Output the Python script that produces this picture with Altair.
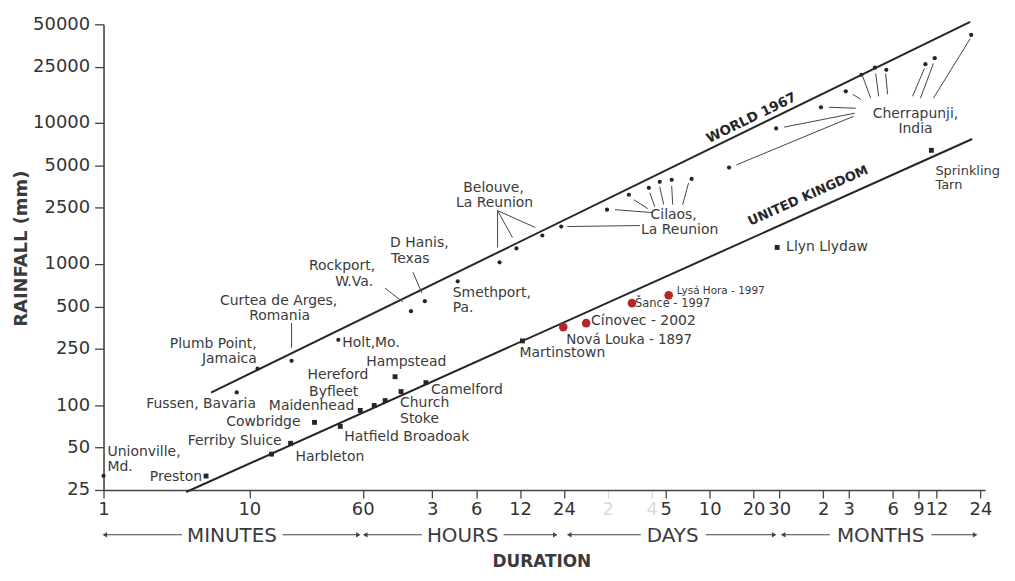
import altair as alt
import pandas as pd

FONT = "DejaVu Sans"
INK = "#262626"
TXT = "#3a3a3a"
RED = "#b3262c"

# ---------------- data (duration in minutes, rainfall in mm) ----------------
world_minutes = [1.0, 8.2, 11.4, 19.5, 40.8, 128.6, 160, 269,
                 521, 680, 1024,
                 1380, 2844, 4018, 5505, 6540, 7900, 10820,
                 19550, 41130, 83500, 123600, 158200, 195900, 234400, 434700, 503300, 895900]
world_mm = [31.5, 123, 181, 206, 290, 463, 545, 754,
            1028, 1289, 1592,
            1843, 2427, 3097, 3469, 3827, 3950, 4010,
            4823, 9143, 12910, 16740, 21960, 24700, 23800, 26090, 28760, 42040]

uk_sites = ["Preston", "Harbleton", "Ferriby Sluice", "Cowbridge", "Hatfield Broadoak",
            "Maidenhead", "Byfleet", "Hereford", "Church Stoke", "Hampstead", "Camelford",
            "Martinstown", "Llyn Llydaw", "Sprinkling Tarn"]
uk_minutes = [5.05, 14.2, 19.2, 28, 42.1, 57.7, 71.9, 85.5, 109.9, 100, 162.8, 748, 41790, 477600]
uk_mm = [31.4, 44.9, 53.6, 75.4, 70.6, 91.6, 99.3, 107.6, 124.7, 158.9, 144.2, 285, 1310, 6393]

cz_sites = ["Nová Louka", "Cínovec", "Šance", "Lysá Hora"]
cz_minutes = [1425, 2046, 4216, 7535]
cz_mm = [357, 381, 528, 601]

env_names = ["WORLD 1967", "WORLD 1967", "UNITED KINGDOM", "UNITED KINGDOM"]
env_minutes = [5.46, 881600, 3.69, 910000]
env_mm = [122.6, 52130, 24.2, 7689]

env_label_text = ["WORLD 1967", "UNITED KINGDOM"]
env_label_minutes = [27780, 68050]
env_label_mm = [10800, 3048]

lab_left_text = ["Unionville,", "Md.", "Harbleton", "Hatfield Broadoak", "Hereford", "Hampstead",
                 "Camelford", "Church", "Stoke", "Holt,Mo.", "D Hanis,", "Texas", "Smethport,",
                 "Pa.", "Sprinkling", "Tarn", "Llyn Llydaw", "Martinstown",
                 "Nová Louka - 1897", "Cínovec - 2002", "Šance - 1997", "Lysá Hora - 1997"]
lab_left_minutes = [1.065, 1.065, 20.77, 44.86, 25.07, 63.4, 176.1, 108.2, 108.2, 43.5, 92.4, 93.9,
                    248.8, 248.8, 508800, 508800, 48150, 713.3, 1493, 2212, 4417, 8545]
lab_left_mm = [46.3, 36.3, 42.7, 59.1, 164.2, 202.8, 128.8, 102.6, 79.1, 276.0, 1398, 1079,
               621.4, 487.0, 4573, 3642, 1310, 234.7, 289.8, 394.5, 519.6, 641.8]
lab_left_size = [14, 14, 14, 14, 14, 14, 14, 14, 14, 14, 14, 14, 14, 14, 13, 13, 14, 14,
                 13.5, 14, 11.5, 10.5]

lab_right_text = ["Preston", "Ferriby Sluice", "Cowbridge", "Maidenhead", "Byfleet",
                  "Plumb Point,", "Jamaica", "Rockport,", "W.Va."]
lab_right_minutes = [4.74, 16.67, 22.46, 52.5, 55.9, 11.25, 11.25, 73.0, 70.8]
lab_right_mm = [30.9, 55.4, 75.4, 97.7, 124.6, 271.6, 212.9, 962.7, 742.8]

lab_center_text = ["Fussen, Bavaria", "Curtea de Arges,", "Romania", "Belouve,", "La Reunion",
                   "Cilaos,", "La Reunion", "Cherrapunji,", "India"]
lab_center_minutes = [4.67, 15.9, 16.15, 474, 481.6, 8152, 8961, 371500, 371500]
lab_center_mm = [100.9, 545.7, 427.8, 3470, 2720, 2239, 1755, 11600, 9100]

# leader lines: start (minutes, mm) -> end (minutes, mm)
lead_x0 = [19.5, 85.4, 132.7, 505, 505, 505,
           1517, 3225, 4347, 5592, 6541, 7901, 10320,
           21940, 46660, 94650, 138000, 161500, 198100, 231900, 428000, 492900, 882000]
lead_y0 = [382, 673.8, 873.5, 2388, 2388, 2388,
           1843, 2428, 2855, 3199, 3526, 3584, 3762,
           5039, 9336, 12920, 15950, 21360, 22420, 22420, 24310, 26370, 39580]
lead_x1 = [19.5, 113.4, 152.9, 505, 639, 917,
           4778, 5861, 5416, 6047, 6966, 8026, 9391,
           140200, 142400, 144700, 156400, 183200, 207700, 239300, 354300, 401900, 492900]
lead_y1 = [255, 536.9, 621.4, 1311, 1541, 1813,
           1873, 2312, 2468, 2549, 2633, 2633, 2633,
           11160, 11720, 12710, 14710, 14950, 15440, 15950, 15440, 14950, 14950]

# x axis ticks (minutes) and their printed labels
tick_minutes = [1, 10, 60, 180, 360, 720, 1440, 2880, 5760, 7200, 14400, 28800, 43200,
                86400, 129600, 259200, 388800, 518400, 1036800]
tick_labels = ["1", "10", "60", "3", "6", "12", "24", "2", "4", "5", "10", "20", "30",
               "2", "3", "6", "9", "12", "24"]
y_ticks = [25, 50, 100, 250, 500, 1000, 2500, 5000, 10000, 25000, 50000]

# duration bands under the axis
band_names = ["MINUTES", "HOURS", "DAYS", "MONTHS"]
band_start = [1.02, 62.4, 1565, 45930]
band_gap0 = [3.46, 152.9, 4853, 96100]
band_gap1 = [16.9, 554.6, 13490, 477600]
band_end = [56, 1256, 39870, 953900]
band_text_x = [7.6, 291, 8020, 214300]

# ---------------- frames ----------------
world_df = pd.DataFrame({"minutes": world_minutes, "mm": world_mm})
uk_df = pd.DataFrame({"site": uk_sites, "minutes": uk_minutes, "mm": uk_mm})
cz_df = pd.DataFrame({"site": cz_sites, "minutes": cz_minutes, "mm": cz_mm})
env_df = pd.DataFrame({"name": env_names, "minutes": env_minutes, "mm": env_mm})
lead_df = pd.DataFrame({"minutes": lead_x0, "mm": lead_y0, "x1": lead_x1, "y1": lead_y1})
labL = pd.DataFrame({"t": lab_left_text, "minutes": lab_left_minutes, "mm": lab_left_mm, "fs": lab_left_size})
labR = pd.DataFrame({"t": lab_right_text, "minutes": lab_right_minutes, "mm": lab_right_mm})
labC = pd.DataFrame({"t": lab_center_text, "minutes": lab_center_minutes, "mm": lab_center_mm})
envL = pd.DataFrame({"t": env_label_text, "minutes": env_label_minutes, "mm": env_label_mm})
band_df = pd.DataFrame({"name": band_names, "minutes": band_start, "g0": band_gap0, "g1": band_gap1,
                        "e": band_end, "tx": band_text_x})

xs = alt.Scale(type="log", domain=[1, 1116000], nice=False)
ys = alt.Scale(type="log", domain=[25, 50000], nice=False)

label_map = "{" + ",".join(f"'{v}':'{l}'" for v, l in zip(tick_minutes, tick_labels)) + "}"
faint = "datum.value == 2880 || datum.value == 5760"

x_axis = alt.Axis(
    values=tick_minutes, labelExpr=label_map + "[datum.value]", title="DURATION",
    titleX=440, titleY=72, titleAlign="center", titleBaseline="middle",
    titleFont=FONT, titleFontSize=17, titleFontWeight="bold", titleColor=TXT,
    labelFont=FONT, labelFontSize=18,
    labelColor={"condition": {"test": faint, "value": "#dadada"}, "value": "#333333"},
    tickColor={"condition": {"test": faint, "value": "#dadada"}, "value": "#444444"},
    tickSize=8, tickWidth=1.3, labelPadding=3, labelOverlap=False, labelFlush=False,
    domainColor="#444444", domainWidth=1.6, grid=False,
)
y_axis = alt.Axis(
    values=y_ticks, format="d", title="RAINFALL (mm)",
    titleX=-82, titleY=225, titleAngle=270, titleAlign="center", titleBaseline="middle",
    titleFont=FONT, titleFontSize=18, titleFontWeight="bold", titleColor=TXT,
    labelFont=FONT, labelFontSize=18, labelColor="#333333",
    tickSize=9, tickWidth=1.3, tickColor="#444444", labelPadding=5, labelOverlap=False,
    domainColor="#444444", domainWidth=1.6, grid=False,
)


def X(f="minutes"):
    return alt.X(f"{f}:Q", scale=xs, axis=x_axis)


def Y(f="mm"):
    return alt.Y(f"{f}:Q", scale=ys, axis=y_axis)


world_pts = alt.Chart(world_df).mark_circle(size=18, color=INK, opacity=1).encode(x=X(), y=Y())
uk_pts = alt.Chart(uk_df).mark_square(size=24, color=INK, opacity=1).encode(x=X(), y=Y())
cz_pts = alt.Chart(cz_df).mark_circle(size=75, color=RED, opacity=1).encode(x=X(), y=Y())

env_lines = alt.Chart(env_df).mark_line(color=INK, strokeWidth=2).encode(
    x=X(), y=Y(), detail="name:N")

world_txt = alt.Chart(envL.iloc[:1]).mark_text(
    font=FONT, fontSize=13.5, fontWeight="bold", color=INK, angle=334,
    align="center", baseline="middle").encode(x=X(), y=Y(), text="t:N")
uk_txt = alt.Chart(envL.iloc[1:]).mark_text(
    font=FONT, fontSize=13, fontWeight="bold", color=INK, angle=336,
    align="center", baseline="middle").encode(x=X(), y=Y(), text="t:N")

leaders = alt.Chart(lead_df).mark_rule(color="#444444", strokeWidth=1).encode(
    x=X(), y=Y(), x2="x1:Q", y2="y1:Q")

txtL = alt.Chart(labL).mark_text(font=FONT, color=TXT, align="left", baseline="middle").encode(
    x=X(), y=Y(), text="t:N", size=alt.Size("fs:Q", scale=None, legend=None))
txtR = alt.Chart(labR).mark_text(font=FONT, fontSize=14, color=TXT, align="right", baseline="middle").encode(
    x=X(), y=Y(), text="t:N")
txtC = alt.Chart(labC).mark_text(font=FONT, fontSize=14, color=TXT, align="center", baseline="middle").encode(
    x=X(), y=Y(), text="t:N")

ARROW_Y = 513
band_l = alt.Chart(band_df).mark_rule(color="#444444", strokeWidth=1.2).encode(
    x=X(), x2="g0:Q", y=alt.value(ARROW_Y))
band_r = alt.Chart(band_df).mark_rule(color="#444444", strokeWidth=1.2).encode(
    x=X("g1"), x2="e:Q", y=alt.value(ARROW_Y))
head_l = alt.Chart(band_df).mark_point(shape="triangle-left", size=28, filled=True, color="#444444",
                                       opacity=1).encode(x=X(), y=alt.value(ARROW_Y))
head_r = alt.Chart(band_df).mark_point(shape="triangle-right", size=28, filled=True, color="#444444",
                                       opacity=1).encode(x=X("e"), y=alt.value(ARROW_Y))
band_txt = alt.Chart(band_df).mark_text(font=FONT, fontSize=20, color=TXT, align="center",
                                        baseline="middle").encode(
    x=X("tx"), y=alt.value(ARROW_Y + 1), text="name:N")

chart = alt.layer(
    world_pts, env_lines, leaders, uk_pts, cz_pts, world_txt, uk_txt, txtL, txtR, txtC,
    band_l, band_r, head_l, head_r, band_txt,
).properties(
    width=886, height=468,
    padding={"left": 96, "top": 15, "right": 22, "bottom": 80},
    autosize=alt.AutoSizeParams(type="none"),
    background="white",
).configure_view(stroke=None)

chart.save("out.html", embed_options={"renderer": "svg", "actions": False})
